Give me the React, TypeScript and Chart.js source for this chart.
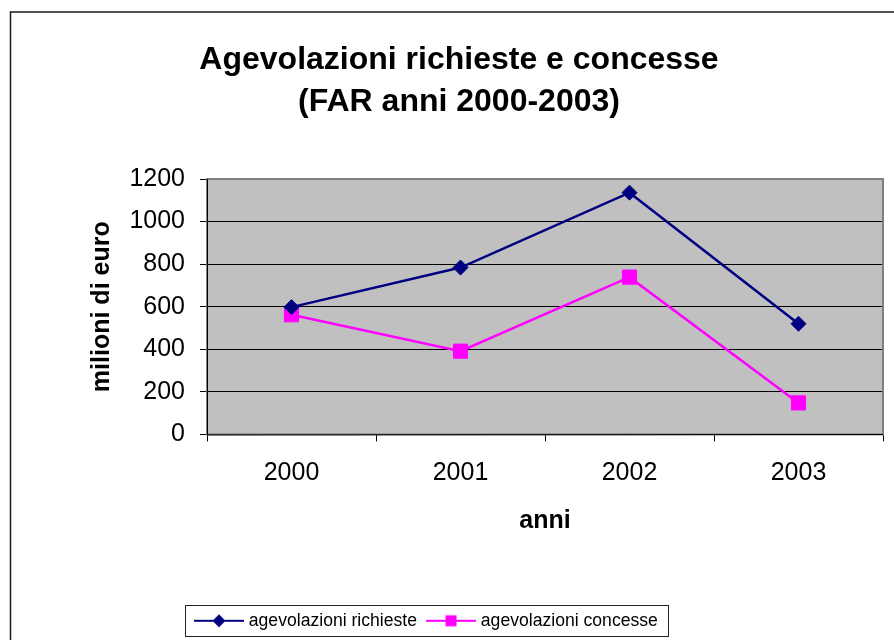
import React, { useEffect, useRef } from "react";
import { Chart, registerables } from "chart.js";

Chart.register(...registerables);

const categories = ["2000", "2001", "2002", "2003"];
const richieste = [598, 784, 1136, 520];
const concesse = [562, 391, 739, 148];
const seriesLabels = ["agevolazioni richieste", "agevolazioni concesse"];
const titleLines = ["Agevolazioni richieste e concesse", "(FAR anni 2000-2003)"];
const yTitle = "milioni di euro";
const xTitle = "anni";

const FONT = "'Liberation Sans', Arial, Helvetica, sans-serif";
const NAVY = "#000080";
const MAGENTA = "#FF00FF";

const LEGEND_BOX = { left: 185, top: 605, right: 668, bottom: 636 };

function makeLegendImage(color: string, kind: "diamond" | "square") {
  const c = document.createElement("canvas");
  c.width = 56;
  c.height = 16;
  const ctx = c.getContext("2d")!;
  ctx.strokeStyle = color;
  ctx.lineWidth = 2;
  ctx.beginPath();
  ctx.moveTo(6, 8);
  ctx.lineTo(56, 8);
  ctx.stroke();
  ctx.fillStyle = color;
  const cx = 31, cy = 8;
  if (kind === "diamond") {
    ctx.beginPath();
    ctx.moveTo(cx - 6.5, cy);
    ctx.lineTo(cx, cy - 6.5);
    ctx.lineTo(cx + 6.5, cy);
    ctx.lineTo(cx, cy + 6.5);
    ctx.closePath();
    ctx.fill();
  } else {
    ctx.fillRect(cx - 5.5, cy - 5.5, 11, 11);
  }
  return c;
}

const framePlugin = {
  id: "excelFrame",
  beforeDraw(chart: any) {
    const { ctx, chartArea: a } = chart;
    ctx.save();
    ctx.fillStyle = "#ffffff";
    ctx.fillRect(0, 0, chart.width, chart.height);
    ctx.strokeStyle = "#1a1a1a";
    ctx.lineWidth = 1.5;
    ctx.strokeRect(10.5, 12, 1000, 1000);
    ctx.fillStyle = "#C0C0C0";
    ctx.fillRect(a.left, a.top, a.right - a.left, a.bottom - a.top);
    ctx.restore();
  },
  beforeDatasetsDraw(chart: any) {
    const { ctx, chartArea: a } = chart;
    ctx.save();
    ctx.strokeStyle = "#808080";
    ctx.lineWidth = 2;
    ctx.strokeRect(a.left, a.top, a.right - a.left, a.bottom - a.top);
    ctx.strokeStyle = "#000000";
    ctx.lineWidth = 1;
    ctx.beginPath();
    ctx.moveTo(Math.round(a.left) + 0.5, a.top);
    ctx.lineTo(Math.round(a.left) + 0.5, a.bottom + 0.5);
    ctx.lineTo(a.right, Math.round(a.bottom) + 0.5);
    ctx.stroke();
    ctx.restore();
  },
  afterLayout(chart: any) {
    const lg = chart.legend;
    if (!lg) return;
    lg.left = LEGEND_BOX.left;
    lg.right = LEGEND_BOX.right + 60;
    lg.width = lg.right - lg.left;
    lg.top = LEGEND_BOX.top;
    lg.bottom = LEGEND_BOX.bottom;
    lg.height = LEGEND_BOX.bottom - LEGEND_BOX.top;
  },
  afterDraw(chart: any) {
    const { ctx } = chart;
    ctx.save();
    ctx.strokeStyle = "#222222";
    ctx.lineWidth = 1;
    ctx.strokeRect(
      LEGEND_BOX.left + 0.5,
      LEGEND_BOX.top + 0.5,
      LEGEND_BOX.right - LEGEND_BOX.left,
      LEGEND_BOX.bottom - LEGEND_BOX.top
    );
    ctx.restore();
  },
};

export default function App() {
  const ref = useRef<HTMLCanvasElement | null>(null);

  useEffect(() => {
    if (!ref.current) return;
    const images = [makeLegendImage(NAVY, "diamond"), makeLegendImage(MAGENTA, "square")];
    const chart = new Chart(ref.current, {
      type: "line",
      data: {
        labels: categories,
        datasets: [
          {
            label: seriesLabels[0],
            data: richieste,
            borderColor: NAVY,
            backgroundColor: NAVY,
            borderWidth: 2.5,
            pointStyle: "rectRot",
            pointRadius: 7.5,
            pointBorderWidth: 1,
            pointBackgroundColor: NAVY,
            pointBorderColor: NAVY,
            tension: 0,
            fill: false,
          },
          {
            label: seriesLabels[1],
            data: concesse,
            borderColor: MAGENTA,
            backgroundColor: MAGENTA,
            borderWidth: 2.5,
            pointStyle: "rect",
            pointRadius: 10,
            pointBorderWidth: 1,
            pointBackgroundColor: MAGENTA,
            pointBorderColor: MAGENTA,
            tension: 0,
            fill: false,
          },
        ],
      },
      options: {
        responsive: false,
        animation: false,
        events: [],
        layout: { padding: { left: 34, right: 10, top: 0, bottom: 67 } },
        plugins: {
          tooltip: { enabled: false },
          title: {
            display: true,
            text: titleLines,
            color: "#000000",
            font: { family: FONT, size: 32, weight: "bold", lineHeight: 1.33 },
            padding: { top: 38.5, bottom: 55.4 },
          },
          legend: {
            display: true,
            position: "bottom",
            align: "start",
            labels: {
              usePointStyle: true,
              pointStyleWidth: 48,
              padding: 7,
              color: "#000000",
              font: { family: FONT, size: 17.6 },
              generateLabels(ch: any) {
                const items = Chart.defaults.plugins.legend.labels.generateLabels(ch);
                return items.map((it: any, i: number) => ({ ...it, pointStyle: images[i] }));
              },
            },
          },
        },
        scales: {
          x: {
            type: "category",
            offset: true,
            grid: {
              offset: true,
              drawOnChartArea: false,
              drawTicks: true,
              tickLength: 7,
              color: "#000000",
              lineWidth: 1,
            },
            border: { display: false },
            ticks: {
              color: "#000000",
              font: { family: FONT, size: 25 },
              padding: 17,
              maxRotation: 0,
              autoSkip: false,
            },
            title: {
              display: true,
              text: xTitle,
              color: "#000000",
              font: { family: FONT, size: 25, weight: "bold" },
              padding: { top: 0, bottom: 2 },
            },
            afterFit(s: any) {
              s.height = 104;
            },
          },
          y: {
            min: 0,
            max: 1200,
            grid: {
              color: "#000000",
              lineWidth: 1,
              drawTicks: true,
              tickLength: 7,
            },
            border: { display: false },
            ticks: {
              stepSize: 200,
              color: "#000000",
              font: { family: FONT, size: 25 },
              padding: 15,
              callback: (v: any) => String(v),
            },
            title: {
              display: true,
              text: yTitle,
              color: "#000000",
              font: { family: FONT, size: 25, weight: "bold" },
              padding: { top: 53, bottom: 0 },
            },
            afterFit(s: any) {
              s.width = 173;
            },
          },
        },
      },
      plugins: [framePlugin],
    } as any);
    return () => chart.destroy();
  }, []);

  return (
    <div style={{ position: "absolute", left: 0, top: 0, width: 894, height: 640 }}>
      <canvas ref={ref} width={894} height={640} style={{ display: "block" }} />
    </div>
  );
}
